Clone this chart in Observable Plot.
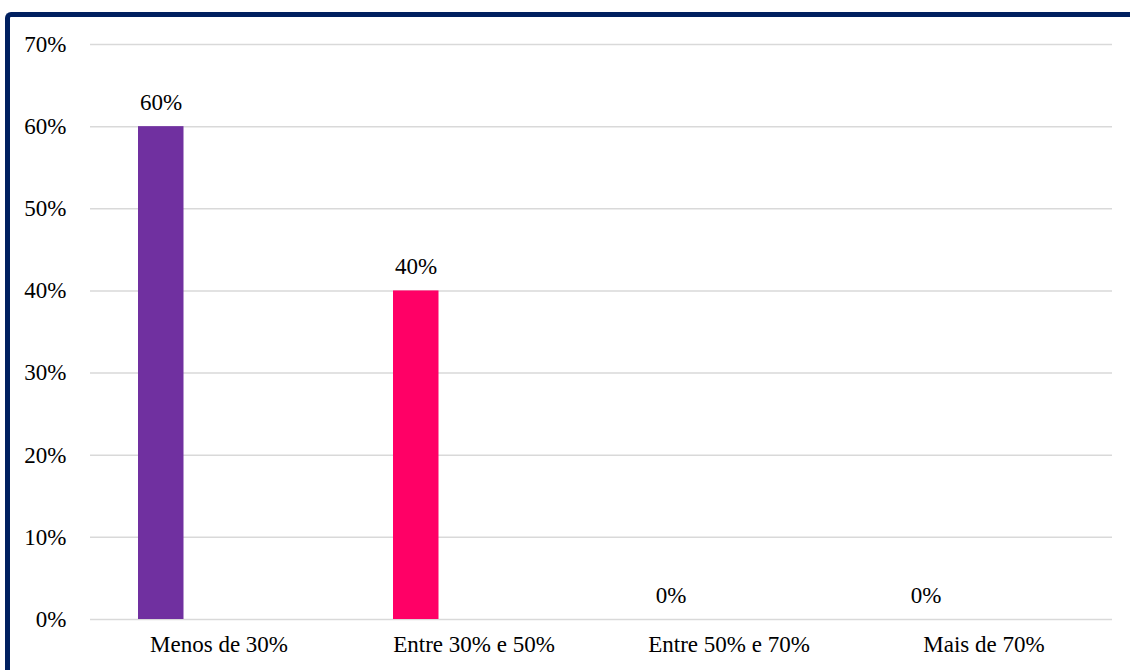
<!DOCTYPE html>
<html>
<head>
<meta charset="utf-8">
<script src="https://cdn.jsdelivr.net/npm/d3@7"></script>
<script src="https://cdn.jsdelivr.net/npm/@observablehq/plot@0.6"></script>
<style>
  html, body { margin: 0; padding: 0; background: #fff; }
  #wrap { position: relative; width: 1130px; height: 670px; overflow: hidden; }
  #frame { position: absolute; left: 5px; top: 12px; width: 1200px; height: 700px;
           border-left: 5px solid #002060; border-top: 5px solid #002060;
           border-top-left-radius: 6px; box-sizing: border-box; }
  #chart { position: absolute; left: 0; top: 0; }
  #chart svg, #chart svg text { font-family: "Liberation Serif", "Times New Roman", serif !important; }
</style>
</head>
<body>
<div id="wrap"><div id="frame"></div><div id="chart"></div></div>
<script>
const categories = ["Menos de 30%", "Entre 30% e 50%", "Entre 50% e 70%", "Mais de 70%"];
const values = [0.60, 0.40, 0.00, 0.00];
const barColors = ["#7030A0", "#FF0066", "#A5A5A5", "#FFC000"];
const yTicks = [0, 0.1, 0.2, 0.3, 0.4, 0.5, 0.6, 0.7];

const data = categories.map((c, i) => ({category: c, value: values[i]}));
const pct = d3.format(".0%");

const chart = Plot.plot({
  width: 1130,
  height: 670,
  marginLeft: 90,
  marginRight: 18,
  marginTop: 44,
  marginBottom: 51,
  style: "font-size: 23px; font-family: 'Liberation Serif', 'Times New Roman', serif; color: #000; background: transparent;",
  x: {domain: categories, padding: 0, label: null, tickSize: 0, tickPadding: 16},
  y: {domain: [0, 0.7], ticks: yTicks, tickFormat: pct, label: null, tickSize: 0, tickPadding: 24},
  color: {domain: categories, range: barColors},
  marks: [
    Plot.gridY(yTicks, {stroke: "#d9d9d9", strokeOpacity: 1, strokeWidth: 1.5}),
    Plot.barY(data, {x: "category", y: "value", fill: "category", insetLeft: 47, insetRight: 162.5}),
    Plot.text(data, {x: "category", y: "value", text: d => pct(d.value), dx: -58, dy: -24, fill: "#000", fontSize: 23})
  ]
});
document.getElementById("chart").appendChild(chart);
</script>
</body>
</html>
